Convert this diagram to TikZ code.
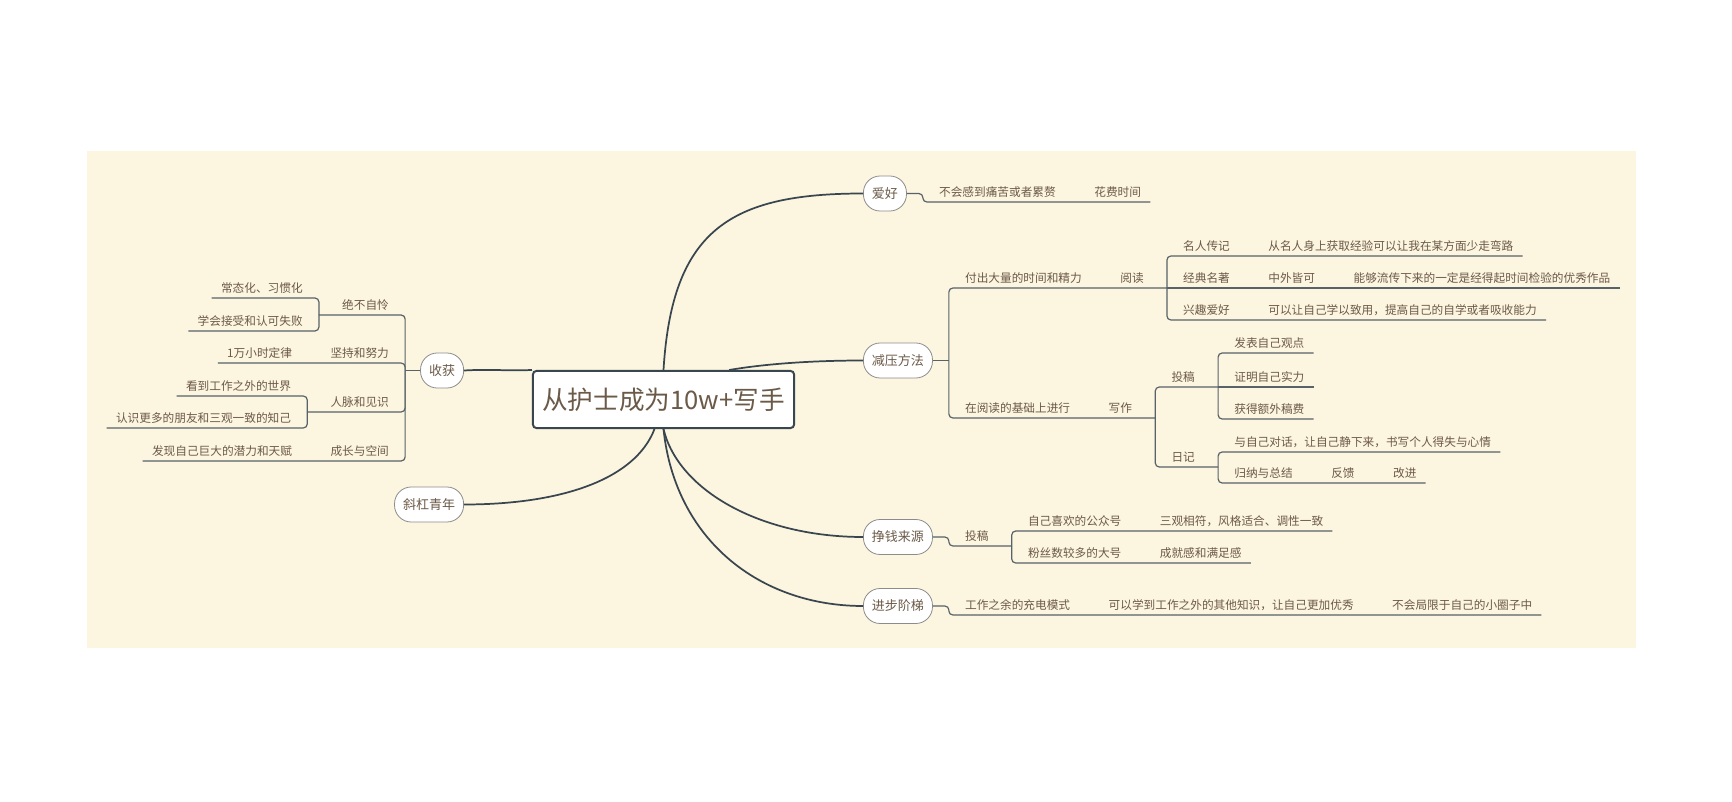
\documentclass[tikz,border=0pt]{standalone}
\usepackage{fontspec}
\setmainfont{Noto Sans CJK SC}
\usetikzlibrary{positioning,calc}
\definecolor{bgc}{RGB}{252,245,224}
\definecolor{txtc}{RGB}{108,90,72}
\definecolor{edgec}{RGB}{58,70,79}
\definecolor{linec}{RGB}{88,98,105}
\definecolor{boxc}{RGB}{140,140,140}
\tikzset{
  rootbox/.style={draw=edgec, line width=1.5pt, fill=white, rounded corners=2.5pt, inner xsep=7pt, minimum height=42.75pt, text=txtc, font=\fontsize{19.2pt}{21pt}\selectfont},
  branchbox/.style={draw=boxc, line width=0.6pt, fill=white, rounded corners=12.5pt, inner xsep=6.4pt, minimum height=26.25pt, text=txtc, font=\fontsize{9.75pt}{11pt}\selectfont},
  topic/.style={inner xsep=6.75pt, inner ysep=2.5pt, text height=7pt, text depth=1.5pt, text=txtc, font=\fontsize{8.75pt}{10pt}\selectfont},
  curve/.style={draw=edgec, line width=1.3pt},
  uline/.style={draw=linec, line width=0.9pt, rounded corners=3pt},
}
\begin{document}
\begin{tikzpicture}[x=0.75pt,y=-0.75pt]
\useasboundingbox (0,0) rectangle (1732,802);
\fill[bgc] (87,151) rectangle (1636,648);

\node (root) at (663.5,399.5) [rootbox] {从护士成为10w+写手};

\node (b1) at (464,370.5) [branchbox, anchor=east] {收获};
\node (b2) at (464,504.5) [branchbox, anchor=east] {斜杠青年};
\node (b3) at (863,193.5) [branchbox, anchor=west] {爱好};
\node (b4) at (863,360.5) [branchbox, anchor=west] {减压方法};
\node (b5) at (863,537) [branchbox, anchor=west] {挣钱来源};
\node (b6) at (863,606) [branchbox, anchor=west] {进步阶梯};

\draw[curve] (root.north west) .. controls (505,371) and (490,369) .. (b1.east);
\draw[curve] ($(root.south)+(-9,0)$) .. controls (635,480) and (560,504.5) .. (b2.east);
\draw[curve] (root.north) .. controls (672,230) and (730,193.5) .. (b3.west);
\draw[curve] ($(root.north)!0.5!(root.north east)$) .. controls (770,363) and (820,360.5) .. (b4.west);
\draw[curve] (root.south) .. controls (678,490) and (760,537) .. (b5.west);
\draw[curve] (root.south) .. controls (675,540) and (760,606) .. (b6.west);

\coordinate (c1) at ($(b1.west)+(-15,0)$);
\draw[uline] (b1.west) -- (c1);
\node (t11) at ($(c1 |- 0,315)+(-7,0)$) [topic, anchor=south east] {绝不自怜};
\coordinate (c11) at ($(t11.south west)+(-14,0)$);
\draw[uline] (c1) |- (c11);
\node (t111) at ($(c11 |- 0,298)+(-7,0)$) [topic, anchor=south east] {常态化、习惯化};
\node (t112) at ($(c11 |- 0,331)+(-7,0)$) [topic, anchor=south east] {学会接受和认可失败};
\draw[uline] (c11) |- (t111.south west);
\draw[uline] (c11) |- (t112.south west);
\node (t12) at ($(c1 |- 0,363)+(-7,0)$) [topic, anchor=south east] {坚持和努力};
\node (t121) [topic, left=15pt of t12] {1万小时定律};
\draw[uline] (c1) |- (t121.south west);
\node (t13) at ($(c1 |- 0,412)+(-7,0)$) [topic, anchor=south east] {人脉和见识};
\coordinate (c13) at ($(t13.south west)+(-14,0)$);
\draw[uline] (c1) |- (c13);
\node (t131) at ($(c13 |- 0,396)+(-7,0)$) [topic, anchor=south east] {看到工作之外的世界};
\node (t132) at ($(c13 |- 0,428)+(-7,0)$) [topic, anchor=south east] {认识更多的朋友和三观一致的知己};
\draw[uline] (c13) |- (t131.south west);
\draw[uline] (c13) |- (t132.south west);
\node (t14) at ($(c1 |- 0,461)+(-7,0)$) [topic, anchor=south east] {成长与空间};
\node (t141) [topic, left=15pt of t14] {发现自己巨大的潜力和天赋};
\draw[uline] (c1) |- (t141.south west);

\node (t31) at ($(b3.east)+(23,8.5)$) [topic, anchor=south west] {不会感到痛苦或者累赘};
\node (t32) [topic, right=15pt of t31] {花费时间};
\draw[uline] (b3.east) -- ++(16,0) |- (t32.south east);

\coordinate (c4) at ($(b4.east)+(16,0)$);
\draw[uline] (b4.east) -- (c4);
\node (t41) at ($(c4 |- 0,288)+(7,0)$) [topic, anchor=south west] {付出大量的时间和精力};
\node (t42) [topic, right=15pt of t41] {阅读};
\coordinate (c42) at ($(t42.south east)+(14,0)$);
\draw[uline] (c4) |- (c42);
\node (t421) at ($(c42 |- 0,256)+(7,0)$) [topic, anchor=south west] {名人传记};
\node (t4211) [topic, right=15pt of t421] {从名人身上获取经验可以让我在某方面少走弯路};
\node (t422) at ($(c42)+(7,0)$) [topic, anchor=south west] {经典名著};
\node (t4221) [topic, right=15pt of t422] {中外皆可};
\node (t4222) [topic, right=15pt of t4221] {能够流传下来的一定是经得起时间检验的优秀作品};
\node (t423) at ($(c42 |- 0,320)+(7,0)$) [topic, anchor=south west] {兴趣爱好};
\node (t4231) [topic, right=15pt of t423] {可以让自己学以致用，提高自己的自学或者吸收能力};
\draw[uline] (c42) |- (t4211.south east);
\draw[uline] (c42) -- (t4222.south east);
\draw[uline] (c42) |- (t4231.south east);

\node (t43) at ($(c4 |- 0,418)+(7,0)$) [topic, anchor=south west] {在阅读的基础上进行};
\node (t44) [topic, right=15pt of t43] {写作};
\coordinate (c44) at ($(t44.south east)+(14,0)$);
\draw[uline] (c4) |- (c44);
\node (t441) at ($(c44 |- 0,387)+(7,0)$) [topic, anchor=south west] {投稿};
\coordinate (c441) at ($(t441.south east)+(14,0)$);
\node (t442) at ($(c44 |- 0,467)+(7,0)$) [topic, anchor=south west] {日记};
\coordinate (c442) at ($(t442.south east)+(14,0)$);
\draw[uline] (c44) |- (c441);
\draw[uline] (c44) |- (c442);
\node (t4411) at ($(c441 |- 0,353)+(7,0)$) [topic, anchor=south west] {发表自己观点};
\node (t4412) at ($(c441)+(7,0)$) [topic, anchor=south west] {证明自己实力};
\node (t4413) at ($(c441 |- 0,419)+(7,0)$) [topic, anchor=south west] {获得额外稿费};
\draw[uline] (c441) |- (t4411.south east);
\draw[uline] (c441) -- (t4412.south east);
\draw[uline] (c441) |- (t4413.south east);
\node (t4421) at ($(c442 |- 0,452)+(7,0)$) [topic, anchor=south west] {与自己对话，让自己静下来，书写个人得失与心情};
\node (t4422) at ($(c442 |- 0,483)+(7,0)$) [topic, anchor=south west] {归纳与总结};
\node (t4423) [topic, right=15pt of t4422] {反馈};
\node (t4424) [topic, right=15pt of t4423] {改进};
\draw[uline] (c442) |- (t4421.south east);
\draw[uline] (c442) |- (t4424.south east);

\node (t51) at ($(b5.east)+(23,9)$) [topic, anchor=south west] {投稿};
\coordinate (c51) at ($(t51.south east)+(14,0)$);
\draw[uline] (b5.east) -- ++(16,0) |- (c51);
\node (t511) at ($(c51 |- 0,531)+(7,0)$) [topic, anchor=south west] {自己喜欢的公众号};
\node (t5111) [topic, right=15pt of t511] {三观相符，风格适合、调性一致};
\node (t512) at ($(c51 |- 0,563)+(7,0)$) [topic, anchor=south west] {粉丝数较多的大号};
\node (t5121) [topic, right=15pt of t512] {成就感和满足感};
\draw[uline] (c51) |- (t5111.south east);
\draw[uline] (c51) |- (t5121.south east);

\node (t61) at ($(b6.east)+(23,9)$) [topic, anchor=south west] {工作之余的充电模式};
\node (t62) [topic, right=15pt of t61] {可以学到工作之外的其他知识，让自己更加优秀};
\node (t63) [topic, right=15pt of t62] {不会局限于自己的小圈子中};
\draw[uline] (b6.east) -- ++(16,0) |- (t63.south east);
\end{tikzpicture}
\end{document}
